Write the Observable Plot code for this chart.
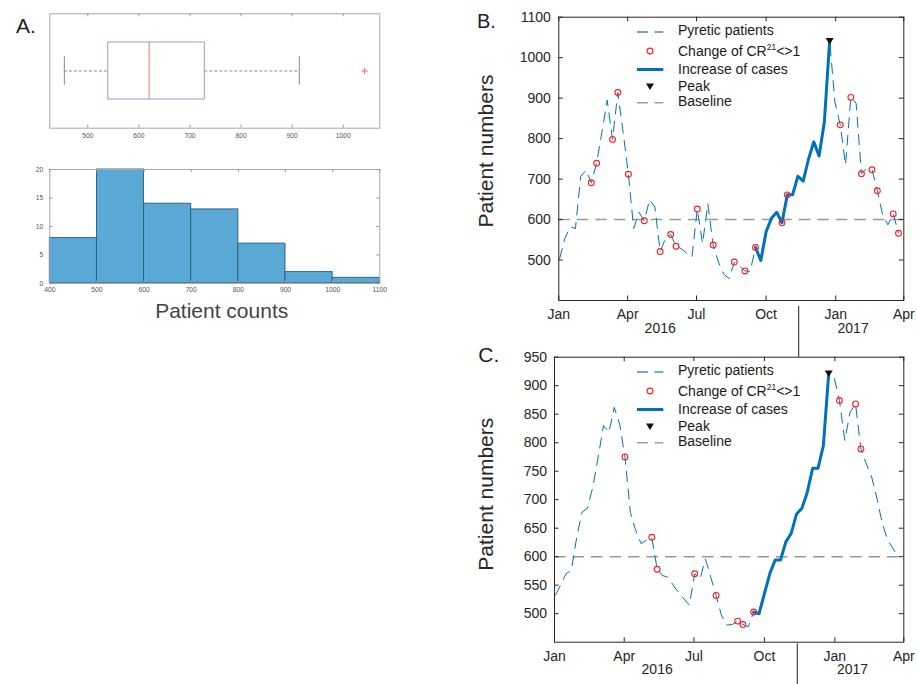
<!DOCTYPE html>
<html>
<head>
<meta charset="utf-8">
<script src="https://cdn.jsdelivr.net/npm/d3@7"></script>
<script src="https://cdn.jsdelivr.net/npm/@observablehq/plot@0.6"></script>
<style>
  html, body { margin: 0; padding: 0; background: #fff; }
  #fig { position: relative; width: 917px; height: 684px; overflow: hidden; background: #fff; }
</style>
</head>
<body>
<div id="fig"></div>
<script>
// ---------------- DATA ----------------
const weekStart = "2016-01-02";               // first weekly observation
// Panel B: weekly pyretic patients
const pyreticB = [503, 553, 582, 578, 707, 722, 691, 739, 816, 895,
                  798, 914, 816, 712, 578, 618, 597, 649, 631, 521,
                  553, 563, 534, 528, 517, 507, 626, 541, 639, 537,
                  495, 465, 454, 495, 485, 473, 472, 531, 499, 570,
                  603, 618, 592, 661, 661, 707, 695, 749, 792, 757,
                  841, 1042, 890, 834, 735, 902, 887, 713, 726, 723,
                  671, 612, 587, 614, 566];
const changeB = [6, 7, 10, 11, 13, 16, 19, 21, 22, 26, 29, 33, 35, 37, 42, 43, 53, 55, 57, 59, 60, 63, 64];
const increaseB = [37, 51];
const peakB = 51;
// Panel C: weekly pyretic patients
const pyreticC = [532, 550, 570, 576, 634, 678, 685, 722, 775, 830,
                  818, 862, 833, 775, 678, 646, 623, 629, 634, 578,
                  567, 564, 550, 537, 526, 515, 570, 561, 596, 564,
                  532, 497, 480, 481, 487, 481, 477, 503, 500, 535,
                  570, 594, 594, 626, 641, 675, 685, 713, 755, 755,
                  795, 922, 915, 874, 804, 854, 868, 789, 763, 740,
                  702, 658, 629, 614, 599];
const changeC = [13, 18, 19, 26, 30, 34, 35, 37, 53, 56, 57];
const increaseC = [37, 51];
const peakC = 51;
const baseline = 600;
// Panel A
const boxSummary = [454, 540, 620, 729, 914];   // lower whisker, Q1, median, Q3, upper whisker
const boxOutliers = [1042];
const histEdges = [400, 500, 600, 700, 800, 900, 1000, 1100];
const histCounts = [8, 20, 14, 13, 7, 2, 1];
// ticks & labels
const boxTicks = [500, 600, 700, 800, 900, 1000];
const histXTicks = [400, 500, 600, 700, 800, 900, 1000, 1100];
const histYTicks = [0, 5, 10, 15, 20];
const yTicksB = [500, 600, 700, 800, 900, 1000, 1100];
const yTicksC = [500, 550, 600, 650, 700, 750, 800, 850, 900, 950];
const monthTicks = ["2016-01-01", "2016-04-01", "2016-07-01", "2016-10-01", "2017-01-01", "2017-04-01"];
const yearLabels = ["2016", "2017"];
const yearLabelDates = ["2016-05-14", "2017-01-24"];
const yearSeparator = "2016-11-13";
const legendLabels = ["Pyretic patients", "Change of CR", "Increase of cases", "Peak", "Baseline"];
const legendSup = ["", "21", "", "", ""];
const legendTail = ["", "<>1", "", "", ""];

// ---------------- SETUP ----------------
const FONT = "Arial, 'Liberation Sans', Helvetica, sans-serif";
const BLUE = "#0072BD";
const INK = "#262626";
const plain = d => String(d);
const parse = d3.utcParse("%Y-%m-%d");
const firstWeek = parse(weekStart);
const dates = pyreticB.map((_, i) => d3.utcDay.offset(firstWeek, 7 * i));
const monthDates = monthTicks.map(parse);
const xDomain = [monthDates[0], monthDates[monthDates.length - 1]];
const yearRows = yearLabels.map((label, i) => ({label, date: parse(yearLabelDates[i])}));
const sepDate = parse(yearSeparator);
const fig = document.getElementById("fig");

function place(node, left, top) {
  node.style.position = "absolute";
  node.style.left = left + "px";
  node.style.top = top + "px";
  fig.appendChild(node);
}

const triDown = {
  draw(ctx, size) {
    const r = Math.sqrt(size / Math.PI);
    ctx.moveTo(-r, -0.65 * r);
    ctx.lineTo(r, -0.65 * r);
    ctx.lineTo(0, 0.95 * r);
    ctx.closePath();
  }
};

// ---------------- PANEL A: boxplot ----------------
{
  const W = 400, H = 150, ml = 49.3, mr = 20.7, mt = 13.3, mb = 22.3;
  const fh = H - mt - mb;
  const box = {cat: "counts", lo: boxSummary[0], q1: boxSummary[1], med: boxSummary[2], q3: boxSummary[3], hi: boxSummary[4]};
  const whisk = "#8a8a8a";
  const p = Plot.plot({
    width: W, height: H, marginLeft: ml, marginRight: mr, marginTop: mt, marginBottom: mb,
    style: {background: "transparent", overflow: "visible", fontFamily: FONT, fontSize: "6.7px", color: "#555"},
    x: {domain: [425.5, 1071.6]},
    y: {type: "band", domain: ["counts"], padding: 1 / 3, axis: null},
    marks: [
      Plot.frame({stroke: "#a8a8a8"}),
      Plot.tickX(boxTicks, {x: d => d, insetTop: fh - 3, stroke: "#9a9a9a"}),
      Plot.tickX(boxTicks, {x: d => d, insetBottom: fh - 3, stroke: "#9a9a9a"}),
      Plot.ruleY([box], {y: "cat", x1: "lo", x2: "q1", stroke: whisk, strokeDasharray: "3,2"}),
      Plot.ruleY([box], {y: "cat", x1: "q3", x2: "hi", stroke: whisk, strokeDasharray: "3,2"}),
      Plot.tickX([box], {y: "cat", x: "lo", insetTop: 14.3, insetBottom: 14.3, stroke: whisk}),
      Plot.tickX([box], {y: "cat", x: "hi", insetTop: 14.3, insetBottom: 14.3, stroke: whisk}),
      Plot.barX([box], {y: "cat", x1: "q1", x2: "q3", fill: "none", stroke: "#8d9fdc", strokeWidth: 1}),
      Plot.tickX([box], {y: "cat", x: "med", stroke: "#f07272"}),
      Plot.dot(boxOutliers, {x: d => d, y: () => "counts", symbol: "plus", r: 2.2, stroke: "#f06a6a", strokeWidth: 1}),
      Plot.axisX({ticks: boxTicks, tickFormat: plain, tickSize: 0, tickPadding: 5, label: null})
    ]
  });
  place(p, 0, 0);
}

// ---------------- PANEL A: histogram ----------------
{
  const W = 400, H = 150, ml = 49.3, mr = 20.7, mt = 19, mb = 17;
  const fh = H - mt - mb, fw = W - ml - mr;
  const bins = histCounts.map((count, i) => ({x0: histEdges[i], x1: histEdges[i + 1], count}));
  const p = Plot.plot({
    width: W, height: H, marginLeft: ml, marginRight: mr, marginTop: mt, marginBottom: mb,
    style: {background: "transparent", overflow: "visible", fontFamily: FONT, fontSize: "6.7px", color: "#555"},
    x: {domain: [400, 1100]},
    y: {domain: [0, 20]},
    marks: [
      Plot.rect(bins, {x1: "x0", x2: "x1", y1: 0, y2: "count", fill: "#5aa8d6", stroke: "#2f5b7a", strokeWidth: 0.9}),
      Plot.frame({stroke: "#a8a8a8"}),
      Plot.tickX(histXTicks, {x: d => d, insetTop: fh - 3, stroke: "#9a9a9a"}),
      Plot.tickX(histXTicks, {x: d => d, insetBottom: fh - 3, stroke: "#9a9a9a"}),
      Plot.tickY(histYTicks, {y: d => d, insetRight: fw - 3, stroke: "#9a9a9a"}),
      Plot.tickY(histYTicks, {y: d => d, insetLeft: fw - 3, stroke: "#9a9a9a"}),
      Plot.axisX({ticks: histXTicks, tickFormat: plain, tickSize: 0, tickPadding: 4, label: null}),
      Plot.axisY({ticks: histYTicks, tickFormat: plain, tickSize: 0, tickPadding: 6.6, label: null})
    ]
  });
  place(p, 0, 150);
}

// ---------------- PANELS B and C ----------------
function timePanel(o) {
  const rows = o.values.map((v, i) => ({date: dates[i], v}));
  const fh = o.height - o.mt - o.mb, fw = o.width - o.ml - o.mr;
  const tl = 4.5;
  return Plot.plot({
    width: o.width, height: o.height,
    marginLeft: o.ml, marginRight: o.mr, marginTop: o.mt, marginBottom: o.mb,
    style: {background: "transparent", overflow: "visible", fontFamily: FONT, fontSize: "14px", color: INK},
    x: {type: "utc", domain: xDomain},
    y: {domain: o.yDomain},
    marks: [
      Plot.ruleY([baseline], {stroke: "#9a9a9a", strokeWidth: 1.6, strokeDasharray: "11.5,7"}),
      Plot.line(rows, {x: "date", y: "v", stroke: BLUE, strokeWidth: 1, strokeDasharray: "11,6.5",
                       strokeLinecap: "butt", strokeLinejoin: "miter"}),
      Plot.line(rows.slice(o.inc[0], o.inc[1] + 1), {x: "date", y: "v", stroke: BLUE, strokeWidth: 3, strokeLinejoin: "round"}),
      Plot.dot(o.change.map(i => rows[i]), {x: "date", y: "v", r: 2.9, fill: "none", stroke: "#ff1f1f", strokeWidth: 1.1}),
      Plot.dot([rows[o.peak]], {x: "date", y: "v", r: 4, symbol: triDown, fill: "#111", stroke: "none"}),
      Plot.frame({stroke: INK}),
      Plot.tickX(monthDates, {x: d => d, insetTop: fh - tl, stroke: INK}),
      Plot.tickX(monthDates, {x: d => d, insetBottom: fh - tl, stroke: INK}),
      Plot.tickY(o.yTicks, {y: d => d, insetRight: fw - tl, stroke: INK}),
      Plot.tickY(o.yTicks, {y: d => d, insetLeft: fw - tl, stroke: INK}),
      Plot.axisX({ticks: monthDates, tickFormat: d3.utcFormat("%b"), tickSize: 0, tickPadding: 9, label: null}),
      Plot.text(yearRows, {x: "date", text: "label", frameAnchor: "bottom", dy: 32, fill: INK}),
      Plot.axisY({ticks: o.yTicks, tickFormat: plain, tickSize: 0, tickPadding: o.pad, label: null}),
      Plot.ruleX([sepDate], {insetTop: fh - o.sepLen, dy: o.sepGap + o.sepLen, stroke: "#444", strokeWidth: 1.2})
    ]
  });
}

place(timePanel({values: pyreticB, change: changeB, inc: increaseB, peak: peakB,
  yDomain: [400, 1100], yTicks: yTicksB,
  width: 477, height: 360, ml: 118.3, mr: 13.7, mt: 16.7, mb: 60, pad: 8, sepGap: 6, sepLen: 51}), 440, 0);

place(timePanel({values: pyreticC, change: changeC, inc: increaseC, peak: peakC,
  yDomain: [450, 950], yTicks: yTicksC,
  width: 477, height: 344, ml: 114, mr: 13.7, mt: 16.7, mb: 42.3, pad: 7.5, sepGap: 1.5, sepLen: 45}), 440, 340);

// ---------------- OVERLAY: panel letters, titles, legends ----------------
const ov = d3.create("svg")
  .attr("width", 917).attr("height", 684)
  .style("position", "absolute").style("left", "0px").style("top", "0px")
  .style("pointer-events", "none")
  .attr("font-family", FONT);

ov.append("text").attr("x", 16).attr("y", 33.3).attr("font-size", 21).attr("fill", "#222").text("A.");
ov.append("text").attr("x", 477).attr("y", 27.5).attr("font-size", 20).attr("fill", "#222").text("B.");
ov.append("text").attr("x", 478.3).attr("y", 361.7).attr("font-size", 21).attr("fill", "#222").text("C.");

ov.append("text").attr("x", 221.7).attr("y", 318.3).attr("text-anchor", "middle")
  .attr("font-size", 21).attr("fill", "#444").text("Patient counts");
ov.append("text").attr("transform", "translate(493,151) rotate(-90)").attr("text-anchor", "middle")
  .attr("font-size", 21).attr("fill", INK).text("Patient numbers");
ov.append("text").attr("transform", "translate(493.3,494.2) rotate(-90)").attr("text-anchor", "middle")
  .attr("font-size", 21).attr("fill", INK).text("Patient numbers");

function legend(y0) {
  const offs = [0, 20.5, 39, 55.7, 70.7];
  const g = ov.append("g");
  const sx1 = 637, sx2 = 663.3, sc = 650, tx = 678;
  g.append("line").attr("x1", sx1).attr("x2", sx2).attr("y1", y0 + offs[0] + 1.5).attr("y2", y0 + offs[0] + 1.5)
    .attr("stroke", "#3d8fd0").attr("stroke-width", 1.4).attr("stroke-dasharray", "11,6.5");
  g.append("circle").attr("cx", sc).attr("cy", y0 + offs[1]).attr("r", 2.9)
    .attr("fill", "none").attr("stroke", "#ff1f1f").attr("stroke-width", 1.1);
  g.append("line").attr("x1", sx1).attr("x2", sx2).attr("y1", y0 + offs[2]).attr("y2", y0 + offs[2])
    .attr("stroke", BLUE).attr("stroke-width", 3);
  const ty = y0 + offs[3];
  g.append("path").attr("d", `M${sc - 4},${ty - 2.6}L${sc + 4},${ty - 2.6}L${sc},${ty + 3.8}Z`).attr("fill", "#111");
  g.append("line").attr("x1", sx1).attr("x2", sx2).attr("y1", y0 + offs[4] + 1.5).attr("y2", y0 + offs[4] + 1.5)
    .attr("stroke", "#a0a0a0").attr("stroke-width", 1.6).attr("stroke-dasharray", "11,6.5");
  legendLabels.forEach((lab, i) => {
    const t = g.append("text").attr("x", tx).attr("y", y0 + offs[i]).attr("dy", "0.35em")
      .attr("font-size", 14).attr("fill", "#1a1a1a");
    t.append("tspan").text(lab);
    if (legendSup[i]) {
      t.append("tspan").attr("font-size", 8.5).attr("dy", -5.5).text(legendSup[i]);
      t.append("tspan").attr("font-size", 14).attr("dy", 5.5).text(legendTail[i]);
    }
  });
}
legend(30.5);
legend(370.5);

fig.appendChild(ov.node());
</script>
</body>
</html>
